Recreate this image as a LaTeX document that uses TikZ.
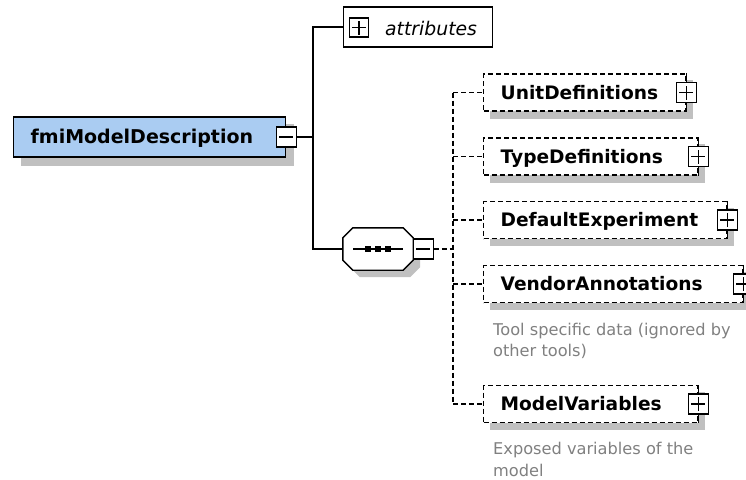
\documentclass[tikz,border=0pt]{standalone}
\usepackage{fontspec}
\setmainfont{DejaVu Sans}
\definecolor{boxblue}{RGB}{170,204,242}
\definecolor{shadowgray}{RGB}{192,192,192}
\definecolor{desccol}{RGB}{128,128,128}
\pgfdeclarelayer{bg}
\pgfsetlayers{bg,main}
\tikzset{
  solidline/.style={line width=1.4pt},
  dashline/.style={line width=1.3pt, dash pattern=on 5pt off 3pt},
  iconbox/.style={draw, line width=1.2pt, fill=white, minimum width=20pt, minimum height=20pt, inner sep=0pt},
  minusicon/.style={iconbox, path picture={
      \draw[line width=1.2pt] ([xshift=-7pt]path picture bounding box.center) -- ([xshift=7pt]path picture bounding box.center);}},
  plusicon/.style={iconbox, path picture={
      \draw[line width=1.2pt] ([xshift=-7pt]path picture bounding box.center) -- ([xshift=7pt]path picture bounding box.center);
      \draw[line width=1.2pt] ([yshift=-7pt]path picture bounding box.center) -- ([yshift=7pt]path picture bounding box.center);}},
  mainbox/.style={draw, line width=1.4pt, fill=boxblue, anchor=west, minimum height=40pt,
      inner xsep=17pt, inner ysep=0pt, align=left, text height=13.8pt, text depth=0pt,
      font=\fontsize{19}{22}\selectfont\bfseries},
  childbox/.style={draw, dashline, fill=white, anchor=west, minimum height=37pt,
      inner xsep=17pt, inner ysep=0pt, align=left, text height=13.6pt, text depth=0pt,
      font=\fontsize{18.6}{22}\selectfont\bfseries},
  attrbox/.style={draw, line width=1.2pt, fill=white, anchor=west, minimum width=149pt, minimum height=40pt, inner sep=0pt},
  attrtext/.style={anchor=west, inner sep=0pt, font=\fontsize{18.8}{22}\selectfont\itshape},
  desctext/.style={anchor=north west, inner sep=0pt, align=left, text=desccol, font=\fontsize{16.2}{21.5}\selectfont},
  seqframe/.style={minimum width=70pt, minimum height=42pt, inner sep=0pt},
}
\newcommand{\octagonpath}[1]{%
  ([xshift=10pt]#1.north west) -- ([xshift=-10pt]#1.north east) -- ([yshift=-10pt]#1.north east)
  -- ([yshift=10pt]#1.south east) -- ([xshift=-10pt]#1.south east) -- ([xshift=10pt]#1.south west)
  -- ([yshift=10pt]#1.south west) -- ([yshift=-10pt]#1.north west) -- cycle}
\begin{document}
\begin{tikzpicture}[x=1pt, y=-1pt]
\useasboundingbox (0,0) rectangle (746,479);

% root element
\node[mainbox, text width=238pt] (root) at (13,137) {fmiModelDescription};
\node[minusicon] (rootminus) at (root.east) {};

% attributes
\node[attrbox] (attr) at (343,27) {};
\node[plusicon, minimum width=19pt, minimum height=19pt] (attrplus) at (359,27.5) {};
\node[attrtext] (attrlabel) at (385,28) {attributes};

% sequence compositor
\node[seqframe] (seq) at (378,249) {};
\node[seqframe] (seqsh) at (385,256) {};
\begin{pgfonlayer}{bg}
  \fill[shadowgray] \octagonpath{seqsh};
\end{pgfonlayer}
\filldraw[solidline, fill=white] \octagonpath{seq};
\node[minusicon] (seqminus) at ([xshift=10pt]seq.east) {};
\draw[line width=1.4pt] ([xshift=-25pt]seq.center) -- ([xshift=25pt]seq.center);
\foreach \dx in {-10,0,10} \fill ([shift={(\dx-2.8,-2.8)}]seq.center) rectangle ([shift={(\dx+2.8,2.8)}]seq.center);

% children
\node[childbox, text width=168pt] (ud) at (483,92.5) {UnitDefinitions};
\node[childbox, text width=180pt] (td) at (483,156.5) {TypeDefinitions};
\node[childbox, text width=209pt] (de) at (483,220) {DefaultExperiment};
\node[childbox, text width=225pt] (va) at (483,284) {VendorAnnotations};
\node[childbox, text width=180pt] (mv) at (483,404) {ModelVariables};

\begin{pgfonlayer}{bg}
  \fill[shadowgray] ([shift={(8,8)}]root.north west) rectangle ([shift={(8,8)}]root.south east);
  \foreach \n in {ud,td,de,va,mv}
    \fill[shadowgray] ([shift={(7,7)}]\n.north west) rectangle ([shift={(7,7)}]\n.south east);
\end{pgfonlayer}

\foreach \n in {ud,td,de,va,mv} {
  \draw[line width=1.2pt] (\n.north east) -- (\n.south east);
  \node[plusicon] (\n plus) at (\n.east) {};
}

\node[desctext] (vadesc) at (493,322.7) {Tool specific data (ignored by\\other tools)};
\node[desctext] (mvdesc) at (493,442.2) {Exposed variables of the\\model};

% connectors
\coordinate (jx) at (313,0);
\coordinate (dx) at (453,0);
\draw[solidline] (rootminus.east) -- (rootminus.east -| jx);
\draw[solidline] (attr.west) -- (attr.west -| jx) -- (seq.west -| jx) -- (seq.west);
\draw[dashline] (seqminus.east) -- (seqminus.east -| dx);
\draw[dashline] (ud.west -| dx) -- (mv.west -| dx);
\foreach \n in {ud,td,de,va,mv}
  \draw[dashline] (\n.west -| dx) -- (\n.west);
\end{tikzpicture}
\end{document}
